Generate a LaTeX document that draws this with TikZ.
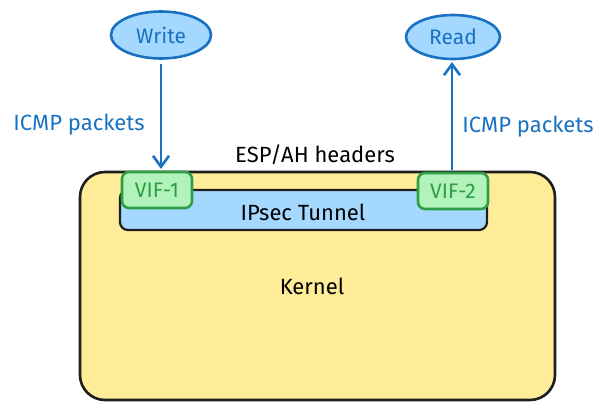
\documentclass[tikz,border=0pt]{standalone}
\usepackage{fontspec}
\setmainfont{Fira Sans}
\usetikzlibrary{shapes.geometric,arrows.meta}
\definecolor{kfill}{HTML}{FFEC99}
\definecolor{tfill}{HTML}{A5D8FF}
\definecolor{vfill}{HTML}{B2F2BB}
\definecolor{vline}{HTML}{2F9E44}
\definecolor{bline}{HTML}{1971C2}
\definecolor{dark}{HTML}{1E1E1E}
\tikzset{
  txt/.style={font=\fontsize{22}{26}\selectfont, inner sep=0pt},
  kernelbox/.style={draw=dark, fill=kfill, line width=2.6pt, rounded corners=25pt, minimum width=475pt, minimum height=228pt, inner sep=0pt},
  tunnelbox/.style={draw=dark, fill=tfill, line width=2.2pt, rounded corners=8pt, minimum width=367pt, minimum height=40pt, inner sep=0pt},
  vifbox/.style={draw=vline, fill=vfill, line width=2.6pt, rounded corners=7pt, minimum width=70pt, minimum height=36pt, inner sep=0pt, text=vline, font=\fontsize{21}{25}\selectfont},
  endpoint/.style={ellipse, draw=bline, fill=tfill, line width=2.6pt, inner sep=0pt, text=bline, font=\fontsize{21}{25}\selectfont},
  flow/.style={draw=bline, line width=2.6pt, -{Straight Barb[length=11pt,width=16pt]}},
}
\begin{document}
\begin{tikzpicture}[x=1pt,y=-1pt]
\useasboundingbox (0,0) rectangle (608,409);
\node[kernelbox] (kernel) at (317.5,286) {};
\node[tunnelbox] (tunnel) at (303.5,210) {};
\node[vifbox] (vif1) at (157,190) {VIF-1};
\node[vifbox] (vif2) at (453,191) {VIF-2};
\node[txt] (tunlabel) at (303,212) {IPsec Tunnel};
\node[txt] (klabel) at (312,286) {Kernel};
\node[txt] (esp) at (315,155) {ESP/AH headers};
\node[endpoint, minimum width=100pt, minimum height=47pt] (write) at (161,35) {Write};
\node[endpoint, minimum width=94pt, minimum height=44pt] (read) at (453,37) {Read};
\coordinate (w1) at (161,64);
\coordinate (w2) at (161,169);
\coordinate (r1) at (452,170);
\coordinate (r2) at (452,62);
\draw[flow] (w1) -- (w2);
\draw[flow] (r1) -- (r2);
\node[txt, text=bline] (icmp1) at (79,125) {ICMP packets};
\node[txt, text=bline] (icmp2) at (528,127) {ICMP packets};
\end{tikzpicture}
\end{document}
